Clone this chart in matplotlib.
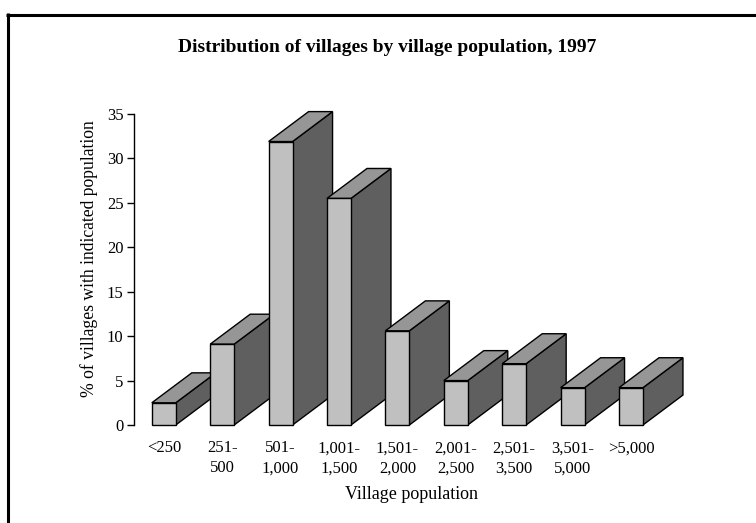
import matplotlib
matplotlib.use('Agg')
import matplotlib.pyplot as plt
from matplotlib.patches import Polygon
from matplotlib.lines import Line2D

plt.rcParams['font.family'] = 'serif'
plt.rcParams['font.serif'] = ['Liberation Serif', 'DejaVu Serif']
plt.rcParams['font.size'] = 12

categories = ['<250', '251-\n500', '501-\n1,000', '1,001-\n1,500', '1,501-\n2,000',
              '2,001-\n2,500', '2,501-\n3,500', '3,501-\n5,000', '>5,000']
values = [2.5, 9.1, 31.9, 25.5, 10.6, 5.0, 6.9, 4.2, 4.2]
yticks = [0, 5, 10, 15, 20, 25, 30, 35]

front_color = '#c0c0c0'
top_color = '#969696'
side_color = '#5f5f5f'

W, H = 756, 523
fig = plt.figure(figsize=(W / 100, H / 100), dpi=100)
ax = fig.add_axes([134 / W, (H - 425) / H, 58.4 * 9.51 / W, 311 / H])
ax.set_xlim(-0.51, 9.0)
ax.set_ylim(0, 35)

hw = 0.205   # half width of the front face
dx = 0.685   # depth offset in x
dy = 3.37    # depth offset in y

for i, v in enumerate(values):
    x0, x1 = i - hw, i + hw
    z = 2 + i
    front = Polygon([(x0, 0), (x1, 0), (x1, v), (x0, v)], closed=True,
                    facecolor=front_color, edgecolor='black', lw=1, zorder=z, clip_on=False)
    top = Polygon([(x0, v), (x1, v), (x1 + dx, v + dy), (x0 + dx, v + dy)], closed=True,
                  facecolor=top_color, edgecolor='black', lw=1, zorder=z, clip_on=False)
    side = Polygon([(x1, 0), (x1 + dx, dy), (x1 + dx, v + dy), (x1, v)], closed=True,
                   facecolor=side_color, edgecolor='black', lw=1, zorder=z, clip_on=False)
    for p in (side, top, front):
        ax.add_patch(p)

ax.set_yticks(yticks)
ax.set_xticks(range(len(categories)))
ax.set_xticklabels(categories, linespacing=1.35)
ax.tick_params(axis='x', length=0, pad=11)
ax.tick_params(axis='y', length=5, width=1, direction='out', pad=2.5)
for s in ['top', 'right', 'bottom']:
    ax.spines[s].set_visible(False)
ax.spines['left'].set_linewidth(1)
ax.patch.set_visible(False)

ax.set_xlabel('Village population', fontsize=13, labelpad=7)
fig.text(89 / W, 1 - 259 / H, '% of villages with indicated population',
         rotation=90, ha='center', va='center', fontsize=12.7)
fig.text(387 / W, 1 - 47 / H, 'Distribution of villages by village population, 1997',
         ha='center', va='center', fontweight='bold', fontsize=14)

# partial frame (top and left edges)
fig.add_artist(Line2D([5.5 / W, 1], [1 - 14.5 / H, 1 - 14.5 / H], color='black', lw=2.2,
                      solid_capstyle='butt'))
fig.add_artist(Line2D([7.5 / W, 7.5 / W], [0, 1 - 13.4 / H], color='black', lw=2.2,
                      solid_capstyle='butt'))

fig.savefig('out.png', dpi=100)
